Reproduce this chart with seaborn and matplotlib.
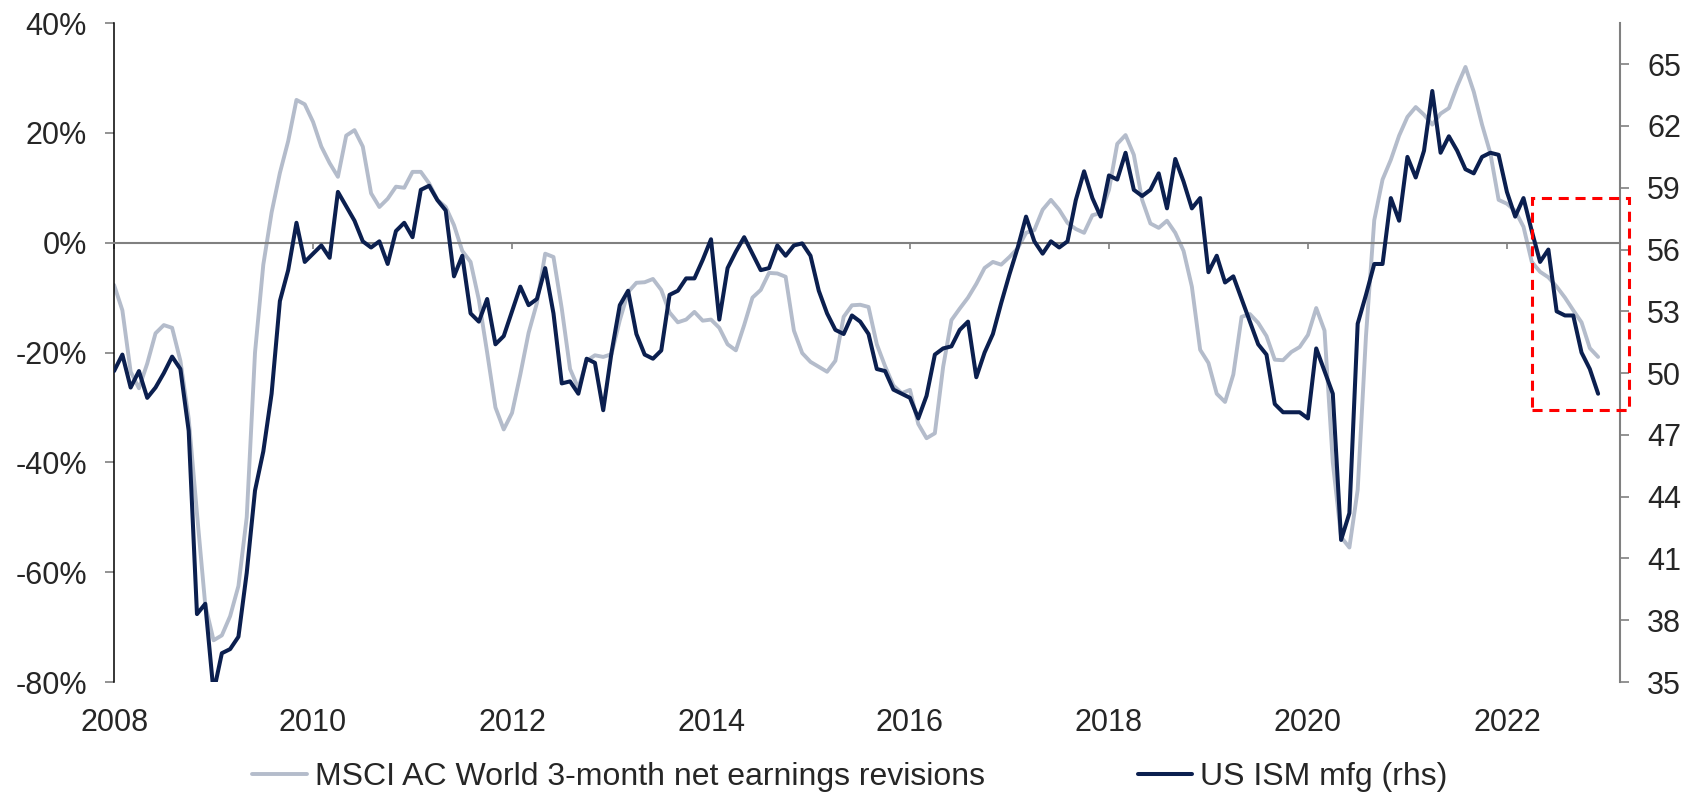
import numpy as np
import pandas as pd
import matplotlib.pyplot as plt
from matplotlib.patches import Rectangle
import seaborn as sns

# monthly values, Jan 2008 onwards
start_year = 2008
revisions = [
    -7.7, -12.3, -23.5, -26.5, -22, -16.5, -15.0, -15.5, -21.5, -32,
    -49.3, -66, -72.4, -71.5, -68, -62.5, -50, -20, -4, 5.5,
    12.7, 18.5, 26.0, 25.2, 22.0, 17.5, 14.5, 12.0, 19.5, 20.5,
    17.5, 9, 6.5, 8, 10.2, 10.0, 12.9, 12.9, 10.8, 7.8,
    6.5, 3.2, -1.5, -3.5, -10.4, -20, -30, -34, -31, -24,
    -16.4, -11, -2, -2.6, -12, -23, -26.5, -21.5, -20.5, -20.8,
    -20.3, -14.1, -9, -7.3, -7.2, -6.6, -8.6, -12.7, -14.5, -14,
    -12.6, -14.2, -14.0, -15.5, -18.5, -19.6, -15, -10, -8.6, -5.5,
    -5.6, -6.2, -16, -20.1, -21.7, -22.6, -23.5, -21.5, -13.5, -11.4,
    -11.3, -11.7, -18.5, -22.5, -26, -27.4, -26.8, -33, -35.6, -34.7,
    -22.6, -14.1, -12, -10, -7.5, -4.6, -3.5, -4, -2.6, -1,
    1.8, 2.3, 6, 7.8, 6, 3.6, 2.5, 1.8, 5.0, 5.4,
    9.6, 18, 19.6, 16, 7.8, 3.5, 2.7, 4.0, 1.8, -1.5,
    -8, -19.5, -21.9, -27.5, -29.0, -24, -13.5, -13, -14.6, -17,
    -21.3, -21.4, -19.9, -19.0, -16.8, -11.9, -16, -40, -53.6, -55.5,
    -45, -17, 4.1, 11.5, 15.1, 19.5, 22.9, 24.7, 23.3, 21.5,
    23.5, 24.5, 28.5, 32.0, 27.5, 21.5, 16.3, 7.8, 7.1, 5.8,
    2.9, -3.5, -5.3, -6.3, -8.0, -10, -12.3, -14.5, -19.2, -20.8,
]
ism = [
    50.1, 50.9, 49.3, 50.1, 48.8, 49.3, 50.0, 50.8, 50.2, 47.2,
    38.3, 38.8, 34.5, 36.4, 36.6, 37.2, 40.3, 44.3, 46.2, 49.0,
    53.5, 55.0, 57.3, 55.4, 55.8, 56.2, 55.6, 58.8, 58.1, 57.4,
    56.4, 56.1, 56.4, 55.3, 56.9, 57.3, 56.6, 58.9, 59.1, 58.4,
    57.9, 54.7, 55.7, 52.9, 52.5, 53.6, 51.4, 51.8, 53.0, 54.2,
    53.3, 53.6, 55.1, 52.9, 49.5, 49.6, 49.0, 50.7, 50.5, 48.2,
    51.0, 53.3, 54.0, 51.9, 50.9, 50.7, 51.1, 53.8, 54.0, 54.6,
    54.6, 55.5, 56.5, 52.6, 55.1, 55.9, 56.6, 55.8, 55.0, 55.1,
    56.2, 55.7, 56.2, 56.3, 55.7, 54.0, 52.9, 52.1, 51.9, 52.8,
    52.5, 51.9, 50.2, 50.1, 49.2, 49.0, 48.8, 47.8, 48.9, 50.9,
    51.2, 51.3, 52.1, 52.5, 49.8, 51.0, 51.9, 53.4, 54.8, 56.1,
    57.6, 56.4, 55.8, 56.4, 56.1, 56.4, 58.4, 59.8, 58.5, 57.6,
    59.6, 59.4, 60.7, 58.9, 58.6, 58.9, 59.7, 58.0, 60.4, 59.3,
    58.0, 58.5, 54.9, 55.7, 54.4, 54.7, 53.6, 52.5, 51.4, 50.9,
    48.5, 48.1, 48.1, 48.1, 47.8, 51.2, 50.1, 49.0, 41.9, 43.2,
    52.4, 53.8, 55.3, 55.3, 58.5, 57.4, 60.5, 59.5, 60.8, 63.7,
    60.7, 61.5, 60.8, 59.9, 59.7, 60.5, 60.7, 60.6, 58.8, 57.6,
    58.5, 56.9, 55.4, 56.0, 53.0, 52.8, 52.8, 51.0, 50.2, 49.0,
]
year_ticks = [2008, 2010, 2012, 2014, 2016, 2018, 2020, 2022]
pct_ticks = [-80, -60, -40, -20, 0, 20, 40]
ism_ticks = [35, 38, 41, 44, 47, 50, 53, 56, 59, 62, 65]
names = ["MSCI AC World 3-month net earnings revisions", "US ISM mfg (rhs)"]

# highlighted window (years, ISM scale)
box_years = (2022.25, 2023.23)
box_ism = (48.2, 58.5)

df = pd.DataFrame({
    "year": start_year + np.arange(len(ism)) / 12,
    "revisions": revisions,
    "ism": ism,
})

sns.set_style("white")
plt.rcParams["font.family"] = ["Liberation Sans", "DejaVu Sans"]
fs = 22

grey = "#b4bccb"
navy = "#0b1f4f"

fig, ax = plt.subplots(figsize=(17, 7.94), dpi=100)
fig.subplots_adjust(left=0.0671, right=0.9529, bottom=0.141, top=0.971)

sns.lineplot(data=df, x="year", y="revisions", ax=ax, color=grey,
             linewidth=2.8, label=names[0], legend=False)
ax2 = ax.twinx()
sns.lineplot(data=df, x="year", y="ism", ax=ax2, color=navy,
             linewidth=2.9, label=names[1], legend=False)

ax.set_xlim(2008, 2023.136)
ax.set_ylim(-80, 40)
ax2.set_ylim(35, 67)
ax.set_xlabel("")
ax.set_ylabel("")
ax2.set_ylabel("")

# left axis
ax.set_yticks(pct_ticks)
ax.set_yticklabels([f"{v}%" for v in pct_ticks], fontsize=fs)
ax.tick_params(axis="y", direction="out", length=6.5, width=1.2,
               color="#808080", pad=13, left=True)
ax.spines["left"].set_color("#000000")
ax.spines["left"].set_linewidth(1.1)
ax.spines["top"].set_visible(False)
ax.spines["right"].set_visible(False)

# zero line acts as x-axis with ticks
ax.spines["bottom"].set_position(("data", 0))
ax.spines["bottom"].set_color("#808080")
ax.spines["bottom"].set_linewidth(1.5)
ax.set_xticks(year_ticks)
ax.set_xticklabels([])
ax.tick_params(axis="x", direction="out", length=4, width=1.2,
               color="#808080", bottom=True)

sec = ax.secondary_xaxis("bottom")
sec.set_xticks(year_ticks)
sec.set_xticklabels([str(y) for y in year_ticks], fontsize=fs)
sec.tick_params(length=0, pad=19)
sec.spines["bottom"].set_visible(False)

# right axis
ax2.set_yticks(ism_ticks)
ax2.set_yticklabels([str(v) for v in ism_ticks], fontsize=fs)
ax2.tick_params(axis="y", direction="out", length=6.5, width=1.2,
                color="#808080", pad=13, right=True)
ax2.spines["right"].set_color("#808080")
ax2.spines["right"].set_linewidth(1.5)
for s in ["top", "bottom", "left"]:
    ax2.spines[s].set_visible(False)

rect = Rectangle((box_years[0], box_ism[0]), box_years[1] - box_years[0],
                 box_ism[1] - box_ism[0], fill=False, edgecolor="#ff0000",
                 linewidth=2.2, linestyle=(0, (3.3, 2.2)), clip_on=False,
                 zorder=5)
ax2.add_patch(rect)

handles = [ax.lines[0], ax2.lines[0]]
fig.legend(handles, names, loc="center", bbox_to_anchor=(0.5, 0.021),
           ncol=2, frameon=False, fontsize=23, handlelength=1.7,
           handletextpad=0.25, columnspacing=4.8)

plt.savefig("out.png")
